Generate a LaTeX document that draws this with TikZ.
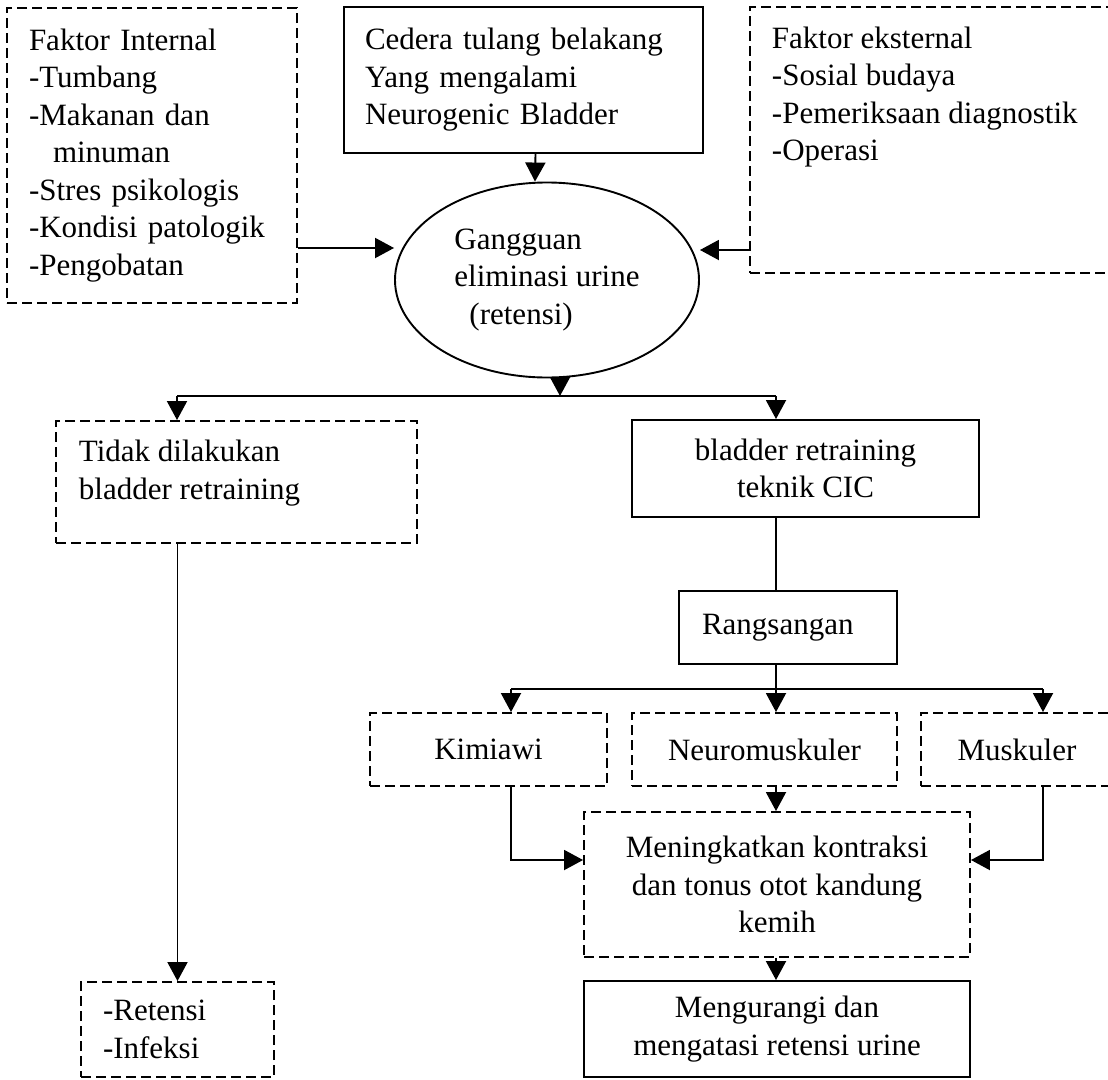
\documentclass[tikz,border=0pt]{standalone}
\usepackage{fontspec}
\setmainfont{Liberation Serif}
\usetikzlibrary{arrows.meta,shapes.geometric,calc}
\begin{document}
\begin{tikzpicture}[x=1pt,y=1pt,
  font=\fontsize{31}{37.5}\selectfont,
  line width=1.9pt,
  arr/.style={-{Triangle[width=20pt,length=19pt]}},
  solidbox/.style={draw, rectangle, inner sep=0pt},
  dashbox/.style={draw, rectangle, dash pattern=on 10pt off 5pt, inner sep=0pt},
  plain/.style={anchor=north west, inner sep=0pt, align=left}
]
\useasboundingbox (0,0) rectangle (1108,-1079);
\clip (0,0) rectangle (1108,-1079);

% top row
\node[dashbox, minimum width=290pt, minimum height=295pt, text width=246pt, inner xsep=22pt, align=left] (int) at (152,-155.5)
  {Faktor Internal\\-Tumbang\\-Makanan dan\\\hspace*{24pt}minuman\\-Stres psikologis\\-Kondisi patologik\\-Pengobatan};
\node[solidbox, minimum width=359pt, minimum height=146pt, text width=317pt, inner xsep=21pt, align=left] (ced) at (523.5,-80)
  {Cedera tulang belakang\\Yang mengalami\\Neurogenic Bladder};
\node[dashbox, minimum width=380pt, minimum height=266pt] (ext) at (940,-140) {};
\node[plain] (extT) at (771,-26) {Faktor eksternal\\-Sosial budaya\\-Pemeriksaan diagnostik\\-Operasi};

\node[draw, ellipse, minimum width=304pt, minimum height=195pt, inner sep=0pt, align=left] (ell) at (547,-280)
  {Gangguan\\eliminasi urine\\\hspace*{15pt}(retensi)};

% middle
\node[dashbox, minimum width=361pt, minimum height=122pt] (tid) at (236.5,-482) {};
\node[plain] (tidT) at (78,-439.5) {Tidak dilakukan\\bladder retraining};
\node[solidbox, minimum width=347pt, minimum height=97pt, align=center] (bl) at (805.5,-468.5)
  {bladder retraining\\teknik CIC};
\node[solidbox, minimum width=218pt, minimum height=73pt, text width=172pt, inner xsep=23pt, align=left] (ra) at (788,-627.5)
  {Rangsangan};

\node[dashbox, minimum width=237pt, minimum height=73pt] (kim) at (488.5,-749.5) {Kimiawi};
\node[dashbox, minimum width=265pt, minimum height=73pt] (neu) at (764.5,-749.5) {Neuromuskuler};
\node[dashbox, minimum width=192pt, minimum height=73pt] (mus) at (1017,-749.5) {Muskuler};

\node[dashbox, minimum width=386pt, minimum height=145pt, align=center] (men) at (777,-884.5)
  {Meningkatkan kontraksi\\dan tonus otot kandung\\kemih};
\node[solidbox, minimum width=386pt, minimum height=96pt, align=center] (mgr) at (777,-1029)
  {Mengurangi dan\\mengatasi retensi urine};

\node[dashbox, minimum width=193pt, minimum height=95pt, text width=149pt, inner xsep=22pt, align=left] (ret) at (177.5,-1029.5)
  {-Retensi\\-Infeksi};

% connectors
\coordinate (sp) at (560,-396);
\coordinate (sL) at (177,-396);
\coordinate (sR) at (776,-396);
\coordinate (cx) at (776,0);
\coordinate (rL) at (511,-689);
\coordinate (rM) at (776,-689);
\coordinate (rR) at (1043,-689);

\draw[arr] ([xshift=12pt]ced.south) -- ([xshift=-12pt]ell.north);
\draw[arr] (int.east |- 0,-248) -- (ell.west |- 0,-248);
\draw[arr] (ext.west |- 0,-250) -- (ell.east |- 0,-250);
\draw[arr] (ell.south -| sp) -- (sp);
\draw (sL) -- (sR);
\draw[arr] (sL) -- (sL |- tid.north);
\draw[arr] (sR) -- (sR |- bl.north);
\draw[arr] (tid.south -| ret.north) -- (ret.north);
\draw (bl.south -| cx) -- (ra.north -| cx);
\draw (ra.south -| cx) -- (rM);
\draw (rL) -- (rR);
\draw[arr] (rL) -- (rL |- kim.north);
\draw[arr] (rM) -- (rM |- neu.north);
\draw[arr] (rR) -- (rR |- mus.north);
\draw[arr] (neu.south -| cx) -- (men.north -| cx);
\draw[arr] (kim.south -| rL) |- (men.west |- 0,-860);
\draw[arr] (mus.south -| rR) |- (men.east |- 0,-860);
\draw[arr] (men.south -| cx) -- (mgr.north -| cx);
\end{tikzpicture}
\end{document}
